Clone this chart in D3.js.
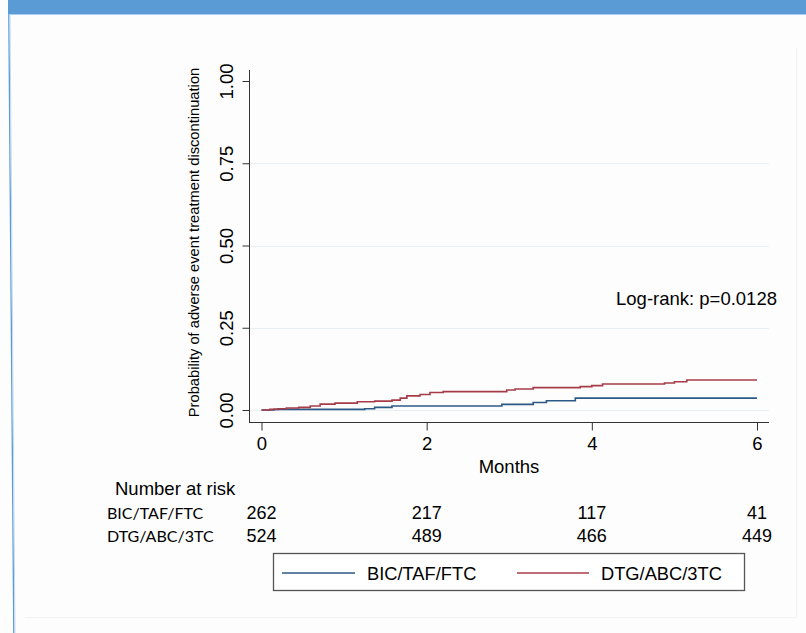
<!DOCTYPE html>
<html>
<head>
<meta charset="utf-8">
<script src="https://cdn.jsdelivr.net/npm/d3@7"></script>
<style>
  body { margin: 0; background: #fdfdfd; }
  svg { display: block; }
</style>
</head>
<body>
<div id="maViz"></div>
<script>
// donnees
const months = [0, 2, 4, 6];
const yTicks = [0, 0.25, 0.5, 0.75, 1];
const groups = ["BIC/TAF/FTC", "DTG/ABC/3TC"];
const atRiskBIC = [262, 217, 117, 41];
const atRiskDTG = [524, 489, 466, 449];

// courbes Kaplan-Meier (temps en mois, probabilite cumulee d'arret)
const bicTime = [0, 0.15, 1.25, 1.37, 1.58, 2.91, 3.29, 3.45, 3.80, 6];
const bicFail = [0, 0.002, 0.004, 0.008, 0.012, 0.017, 0.023, 0.028, 0.036, 0.036];
const dtgTime = [0, 0.1, 0.2, 0.3, 0.45, 0.59, 0.71, 0.89, 1.16, 1.37, 1.58, 1.68, 1.76, 1.92, 2.04, 2.2,
                 2.97, 3.07, 3.29, 3.86, 4.0, 4.13, 4.88, 5.0, 5.15, 6];
const dtgFail = [0, 0.002, 0.004, 0.006, 0.008, 0.012, 0.018, 0.021, 0.025, 0.027, 0.030, 0.036, 0.043, 0.047, 0.053, 0.056,
                 0.061, 0.064, 0.068, 0.071, 0.074, 0.079, 0.082, 0.086, 0.091, 0.091];

const W = 806, H = 633;
const blue = "#2c5985";
const red = "#a63c48";
const font = "'Liberation Sans', Arial, sans-serif";
const ink = "#000";

const svg = d3.select("#maViz").append("svg")
  .attr("width", W).attr("height", H);

// cadre de la diapo
svg.append("rect").attr("x", 8).attr("y", 0).attr("width", W - 8).attr("height", 14).attr("fill", "#5b9bd5");
svg.append("line").attr("x1", 9).attr("x2", W).attr("y1", 14.5).attr("y2", 14.5).attr("stroke", "#a9cbef").attr("stroke-width", 1);
svg.append("line").attr("x1", 8.8).attr("y1", 14).attr("x2", 13.8).attr("y2", H).attr("stroke", "#5b9bd5").attr("stroke-width", 1.3);
svg.append("line").attr("x1", 10).attr("y1", 14).attr("x2", 15).attr("y2", H).attr("stroke", "#c3dbf3").attr("stroke-width", 1);
svg.append("line").attr("x1", 796.5).attr("x2", 796.5).attr("y1", 48).attr("y2", 617).attr("stroke", "#f1f1f1");
svg.append("line").attr("x1", 25).attr("x2", 796).attr("y1", 617.5).attr("y2", 617.5).attr("stroke", "#f3f3f3");

// echelles
const x = d3.scaleLinear().domain([0, 6]).range([261.5, 757]);
const y = d3.scaleLinear().domain([0, 1]).range([410, 81]);

// grille
svg.append("g").selectAll("line")
  .data(yTicks.slice(0, 4))
  .join("line")
    .attr("x1", 250).attr("x2", 769)
    .attr("y1", d => Math.round(y(d)) + 0.5).attr("y2", d => Math.round(y(d)) + 0.5)
    .attr("stroke", "#e6eff2").attr("stroke-width", 1.2);

// axe Y
const yAxis = svg.append("g")
  .attr("transform", "translate(249.5,0)")
  .call(d3.axisLeft(y).tickValues(yTicks).tickFormat(d3.format(".2f")).tickSize(7).tickSizeOuter(0));
yAxis.select(".domain").attr("d", "M0,70V422.5").attr("stroke", "#333");
yAxis.selectAll(".tick line").attr("stroke", "#333");
yAxis.selectAll(".tick text")
  .attr("font-family", font).attr("font-size", 18.5).attr("fill", ink)
  .attr("x", 0).attr("dy", 0)
  .attr("transform", "translate(-16.5,0) rotate(-90)")
  .style("text-anchor", "middle");

// axe X
const xAxis = svg.append("g")
  .attr("transform", "translate(0,422.5)")
  .call(d3.axisBottom(x).tickValues(months).tickFormat(d3.format("d")).tickSize(8).tickSizeOuter(0));
xAxis.select(".domain").attr("d", "M249,0H769").attr("stroke", "#333");
xAxis.selectAll(".tick line").attr("stroke", "#333");
xAxis.selectAll(".tick text")
  .attr("font-family", font).attr("font-size", 18.5).attr("fill", ink)
  .attr("y", 27.5).attr("dy", 0);

// titres des axes
svg.append("text")
  .attr("transform", "translate(199,242.5) rotate(-90)")
  .attr("text-anchor", "middle")
  .attr("font-family", font).attr("font-size", 14.7).attr("fill", ink)
  .text("Probability of adverse event treatment discontinuation");

svg.append("text")
  .attr("x", 509).attr("y", 473)
  .attr("text-anchor", "middle")
  .attr("font-family", font).attr("font-size", 18.5).attr("fill", ink)
  .text("Months");

// courbes
const line = d3.line()
  .x(d => x(d[0])).y(d => y(d[1]))
  .curve(d3.curveStepAfter);

svg.append("path")
  .datum(bicTime.map((t, i) => [t, bicFail[i]]))
  .attr("d", line).attr("fill", "none")
  .attr("stroke", blue).attr("stroke-width", 1.6);

svg.append("path")
  .datum(dtgTime.map((t, i) => [t, dtgFail[i]]))
  .attr("d", line).attr("fill", "none")
  .attr("stroke", red).attr("stroke-width", 1.6);

// log-rank
svg.append("text")
  .attr("x", 777).attr("y", 305)
  .attr("text-anchor", "end")
  .attr("font-family", font).attr("font-size", 18.5).attr("fill", ink)
  .text("Log-rank: p=0.0128");

// nombre a risque
svg.append("text")
  .attr("x", 115).attr("y", 495)
  .attr("font-family", font).attr("font-size", 18.5).attr("fill", ink)
  .text("Number at risk");

const rows = [atRiskBIC, atRiskDTG];
groups.forEach((g, i) => {
  const yy = 519 + i * 23;
  svg.append("text")
    .attr("x", 107).attr("y", yy)
    .attr("font-family", "Lato, 'Open Sans', sans-serif").attr("font-size", 16).attr("fill", ink)
    .text(g);
  svg.append("g").selectAll("text")
    .data(rows[i])
    .join("text")
      .attr("x", (d, j) => x(months[j]))
      .attr("y", yy)
      .attr("text-anchor", "middle")
      .attr("font-family", font).attr("font-size", 18).attr("fill", ink)
      .text(d => d);
});

// legende
const leg = svg.append("g");
leg.append("rect")
  .attr("x", 273.5).attr("y", 553.5).attr("width", 471).attr("height", 37)
  .attr("fill", "#fff").attr("stroke", "#555").attr("stroke-width", 1.3);
const legItems = [
  {label: groups[0], color: blue, x0: 282, x1: 355, tx: 367},
  {label: groups[1], color: red, x0: 517, x1: 589, tx: 601}
];
legItems.forEach(d => {
  leg.append("line")
    .attr("x1", d.x0).attr("x2", d.x1).attr("y1", 573).attr("y2", 573)
    .attr("stroke", d.color).attr("stroke-width", 1.6);
  leg.append("text")
    .attr("x", d.tx).attr("y", 580)
    .attr("font-family", font).attr("font-size", 18.3).attr("fill", ink)
    .text(d.label);
});
</script>
</body>
</html>
